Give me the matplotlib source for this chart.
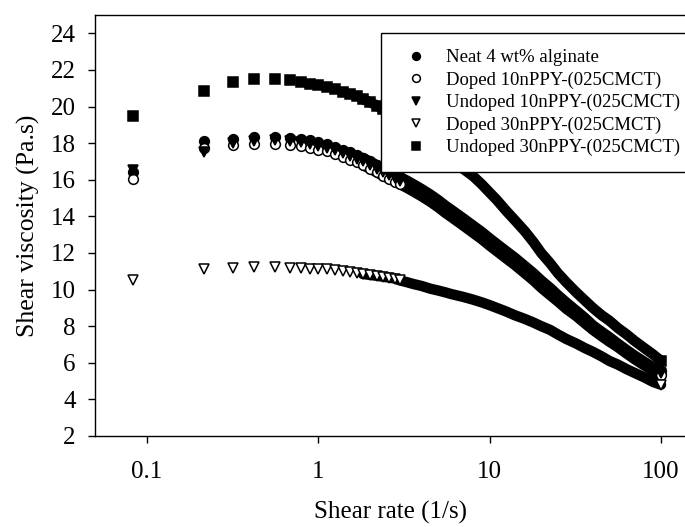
import numpy as np
import matplotlib.pyplot as plt

plt.rcParams['font.family'] = ['Liberation Serif', 'DejaVu Serif']

# shear rate (1/s)
shear_rate = [0.083, 0.216, 0.317, 0.42, 0.56, 0.68, 0.79, 0.90, 1.0, 1.12, 1.25, 1.4,
              1.53, 1.68, 1.82, 2.0, 2.2, 2.4, 2.6, 2.8, 3.0, 3.3, 3.6, 4.0, 4.5, 5.0,
              5.5, 6.0, 7.0, 8.0, 9.0, 10, 11, 12.5, 14, 16, 18, 20, 22.5, 25, 28, 32,
              36, 40, 45, 50, 56, 63, 70, 80, 90, 100]

# shear viscosity (Pa.s)
neat = [16.4, 18.1, 18.25, 18.35, 18.35, 18.3, 18.25, 18.15, 18.05, 17.95, 17.8, 17.65,
        17.5, 17.35, 17.2, 17.0, 16.8, 16.6, 16.45, 16.3, 16.15, 15.95, 15.75, 15.5, 15.2, 14.9,
        14.6, 14.35, 13.9, 13.5, 13.15, 12.8, 12.5, 12.1, 11.75, 11.3, 10.9, 10.5, 10.1, 9.7, 9.3, 8.85,
        8.45, 8.05, 7.7, 7.4, 7.05, 6.7, 6.4, 6.05, 5.75, 5.55]
doped_10 = [16.05, 17.75, 17.9, 17.95, 17.95, 17.9, 17.85, 17.75, 17.65, 17.55, 17.4, 17.25,
            17.1, 16.95, 16.8, 16.6, 16.4, 16.2, 16.05, 15.9, 15.75, 15.55, 15.35, 15.1, 14.8, 14.5,
            14.2, 13.95, 13.5, 13.1, 12.75, 12.4, 12.1, 11.7, 11.35, 10.9, 10.5, 10.1, 9.7, 9.35, 8.95, 8.55,
            8.15, 7.8, 7.45, 7.15, 6.85, 6.5, 6.2, 5.85, 5.55, 5.35]
undoped_10 = [16.55, 17.5, 18.0, 18.1, 18.15, 18.1, 18.05, 17.95, 17.85, 17.75, 17.6, 17.45,
              17.3, 17.15, 17.0, 16.8, 16.6, 16.4, 16.25, 16.1, 15.95, 15.75, 15.55, 15.3, 15.0, 14.7,
              14.4, 14.15, 13.7, 13.3, 12.95, 12.6, 12.3, 11.9, 11.55, 11.1, 10.7, 10.3, 9.9, 9.5, 9.1, 8.7,
              8.3, 7.9, 7.55, 7.25, 6.95, 6.6, 6.3, 5.95, 5.65, 5.45]
doped_30 = [10.5, 11.1, 11.2, 11.25, 11.25, 11.2, 11.2, 11.15, 11.1, 11.1, 11.05, 11.0,
            10.95, 10.9, 10.85, 10.8, 10.75, 10.7, 10.65, 10.6, 10.5, 10.4, 10.3, 10.2, 10.05, 9.95,
            9.85, 9.75, 9.6, 9.45, 9.3, 9.15, 9.0, 8.8, 8.6, 8.4, 8.2, 8.0, 7.8, 7.55, 7.3, 7.05,
            6.8, 6.6, 6.35, 6.1, 5.9, 5.65, 5.45, 5.2, 4.95, 4.8]
undoped_30 = [19.5, 20.85, 21.35, 21.5, 21.5, 21.45, 21.35, 21.25, 21.15, 21.05, 20.95, 20.8,
              20.7, 20.55, 20.4, 20.25, 20.05, 19.85, 19.65, 19.45, 19.25, 18.95, 18.7, 18.35, 17.9, 17.5,
              17.2, 16.95, 16.6, 16.2, 15.75, 15.3, 14.9, 14.3, 13.8, 13.2, 12.6, 12.0, 11.45, 10.9, 10.4, 9.85,
              9.4, 9.0, 8.6, 8.3, 7.9, 7.55, 7.2, 6.8, 6.45, 6.1]

labels = ["Neat 4 wt% alginate", "Doped 10nPPY-(025CMCT)", "Undoped 10nPPY-(025CMCT)",
          "Doped 30nPPY-(025CMCT)", "Undoped 30nPPY-(025CMCT)"]

series = [neat, doped_10, undoped_10, doped_30, undoped_30]
markers = ['o', 'o', 'v', 'v', 's']
filled = [True, False, True, False, True]

fig = plt.figure(figsize=(6.85, 5.27), dpi=100)
ax = fig.add_axes([0.139, 0.1727, 0.861, 0.7988])

x = np.array(shear_rate)
# the real measurements overlap into a solid band at higher rates
dense = x >= 1.8
sparse = x < 3.1
sparse[-1] = True  # last point still shows its own marker
ms = 7

for y, m, f, lab in zip(series, markers, filled, labels):
    y = np.array(y)
    ax.plot(x[dense], y[dense], color='black', lw=7.5, solid_capstyle='round', zorder=2)
    ax.plot(x[sparse], y[sparse], linestyle='none', marker=m, ms=ms, mec='black',
            mfc='black' if f else 'white', mew=1.1, label=lab, zorder=3)

ax.set_xscale('log')
ax.set_xlim(0.05, 138)
ax.set_ylim(2, 25)
ax.set_xticks([0.1, 1, 10, 100])
ax.set_xticklabels(['0.1', '1', '10', '100'])
ax.xaxis.set_minor_locator(plt.NullLocator())
ax.set_yticks(np.arange(2, 25, 2))

ax.tick_params(direction='out', length=5, width=1, labelsize=18, color='black')
ax.tick_params(axis='x', pad=13)
ax.tick_params(axis='y', pad=9)
ax.spines['right'].set_visible(False)
for s in ['left', 'bottom', 'top']:
    ax.spines[s].set_linewidth(1.0)

ax.set_xlabel("Shear rate (1/s)", fontsize=18, labelpad=13)
ax.set_ylabel("Shear viscosity (Pa.s)", fontsize=18.5, labelpad=8)

leg = fig.legend(loc='upper left', bbox_to_anchor=(381 / 685, 1 - 33 / 527),
                 borderaxespad=0, fontsize=13.5, frameon=True, fancybox=False,
                 edgecolor='black', framealpha=1, handletextpad=0.6, borderpad=0.85,
                 labelspacing=0.28, handlelength=2.0, markerscale=0.8)
leg.get_frame().set_linewidth(1.0)
leg.set_zorder(5)

fig.savefig("out.png", dpi=100)
